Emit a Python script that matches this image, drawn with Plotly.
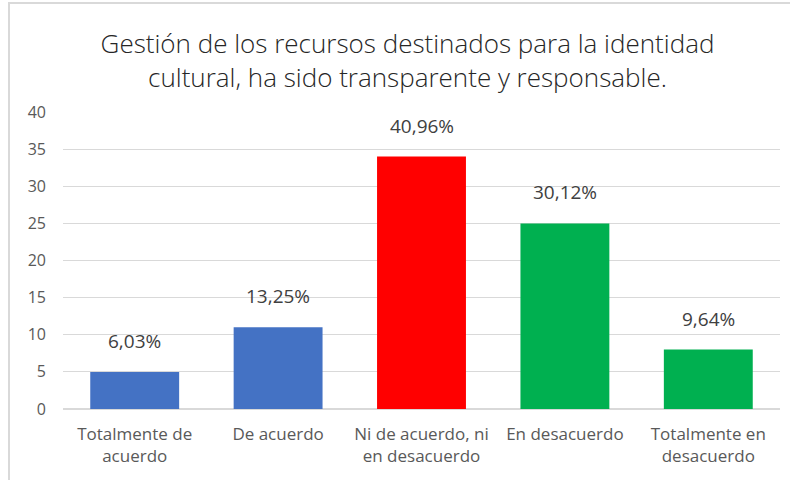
import plotly.graph_objects as go

categories = ["Totalmente de<br>acuerdo", "De acuerdo", "Ni de acuerdo, ni<br>en desacuerdo",
              "En desacuerdo", "Totalmente en<br>desacuerdo"]
values = [5, 11, 34, 25, 8]
labels = ["6,03%", "13,25%", "40,96%", "30,12%", "9,64%"]
colors = ["#4472C4", "#4472C4", "#FF0000", "#00B050", "#00B050"]
title = "Gestión de los recursos destinados para la identidad<br>cultural, ha sido transparente y responsable."

L, R, T, B = 63, 10, 112, 71
W, H = 790, 480
pw, ph = W - L - R, H - T - B

fig = go.Figure(go.Bar(x=categories, y=values, marker_color=colors, width=0.62,
                       marker_line_width=0, hoverinfo="skip"))

for c, v, t in zip(categories, values, labels):
    fig.add_annotation(x=c, y=v, text=t, showarrow=False, yanchor="bottom", yshift=16,
                       font=dict(family="Open Sans, Liberation Sans", size=19, color="#404040"))

# outer chart border (top/left visible, right/bottom off-canvas)
fig.add_shape(type="rect", xref="paper", yref="paper",
              x0=(9 - L) / pw, x1=(W + 10 - L) / pw,
              y0=-(H + 10 - T - ph) / ph, y1=(T + ph - 3) / ph,
              line=dict(color="#D9D9D9", width=2), fillcolor="rgba(0,0,0,0)")

fig.update_layout(
    width=W, height=H, margin=dict(l=L, r=R, t=T, b=B),
    paper_bgcolor="white", plot_bgcolor="white", showlegend=False,
    title=dict(text=title, x=407.5 / W, xanchor="center", y=1 - 53 / H, yanchor="middle",
               font=dict(family="Open Sans, Lato", size=26, weight=300, color="#262626")),
)
fig.update_yaxes(range=[0, 40], dtick=5, showgrid=True, gridcolor="#D9D9D9", gridwidth=1,
                 zeroline=True, zerolinecolor="#D9D9D9", showline=False, ticks="",
                 ticklabelstandoff=16,
                 tickfont=dict(family="Open Sans", size=16, color="#595959"))
fig.update_xaxes(showline=False, ticks="", ticklabelstandoff=13,
                 tickfont=dict(family="Open Sans", size=17, color="#595959"))

fig.write_html("out.html", config={"displayModeBar": False},
               post_script="document.body.style.margin='0px';")
